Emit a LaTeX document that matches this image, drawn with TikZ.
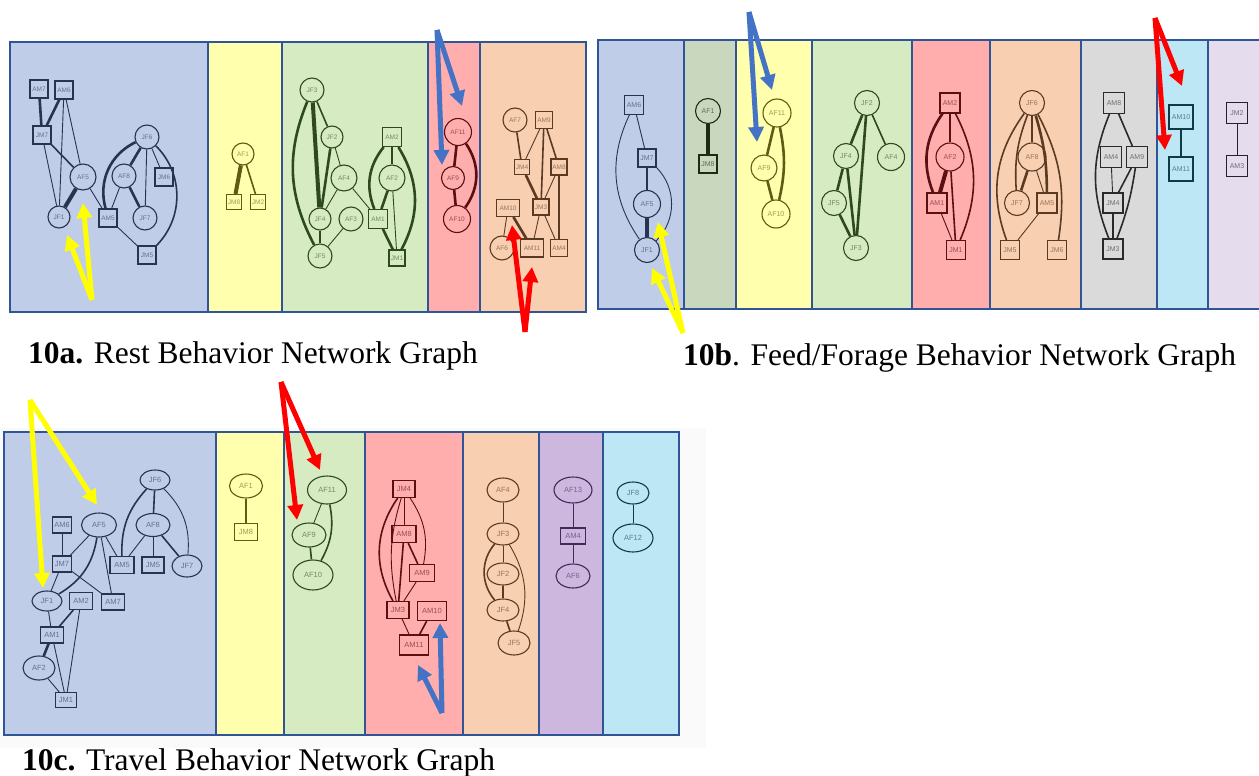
\documentclass[tikz,border=0pt]{standalone}
\usepackage{fontspec}
\setmainfont{Liberation Serif}
\newfontfamily\lab{Liberation Sans}
\usetikzlibrary{arrows.meta,shapes.geometric}

% panel fills and frame
\definecolor{bdr}{HTML}{2F5597}
\definecolor{pblue}{HTML}{BFCDE8}
\definecolor{pyellow}{HTML}{FFFFAD}
\definecolor{pgreen}{HTML}{D6EBC2}
\definecolor{pred}{HTML}{FFADAD}
\definecolor{ppeach}{HTML}{F8CFB1}
\definecolor{polive}{HTML}{C9D7BF}
\definecolor{pgray}{HTML}{DADADA}
\definecolor{pcyan}{HTML}{BEE7F6}
\definecolor{plav}{HTML}{E5DCEE}
\definecolor{ppurple}{HTML}{CDB7DF}
% line colours of the graphs
\definecolor{inkblue}{HTML}{26344F}
\definecolor{inkyellow}{HTML}{5C5C14}
\definecolor{inkgreen}{HTML}{2E4A1C}
\definecolor{inkred}{HTML}{5A0F12}
\definecolor{inkpeach}{HTML}{5A3A22}
\definecolor{inkolive}{HTML}{1E2A14}
\definecolor{inkgray}{HTML}{2A2A2A}
\definecolor{inkcyan}{HTML}{0E3A44}
\definecolor{inklav}{HTML}{2A1F30}
\definecolor{inkpurple}{HTML}{3F2A5A}
\definecolor{ink}{HTML}{26344F}
% pointer arrows
\definecolor{hy}{HTML}{FFFF00}
\definecolor{hr}{HTML}{FF0000}
\definecolor{hb}{HTML}{4472C4}

\tikzset{
  panel/.style={fill=#1, draw=bdr, line width=1.6pt},
  labfont/.style={font=\lab\fontsize{#1}{#1}\selectfont},
  vc/.style={circle, draw=ink, line width=1.1pt, inner sep=0pt, minimum size=#1,
             text=ink, text opacity=0.6},
  vc/.default=24,
  vb/.style={rectangle, draw=ink, line width=1.1pt, inner sep=0pt, minimum width=#1,
             minimum height=#1, text=ink, text opacity=0.6},
  vb/.default=18,
  ve/.style 2 args={ellipse, draw=ink, line width=1.1pt, inner sep=0pt, minimum width=#1,
             minimum height=#2, text=ink, text opacity=0.6},
  vr/.style 2 args={rectangle, draw=ink, line width=1.1pt, inner sep=0pt, minimum width=#1,
             minimum height=#2, text=ink, text opacity=0.6},
  e1/.style={draw=ink, line width=0.9pt},
  e2/.style={draw=ink, line width=1.6pt},
  e3/.style={draw=ink, line width=2.6pt},
  e4/.style={draw=ink, line width=4pt},
  hint/.style={draw=#1, line width=5pt, -{Triangle[length=15pt,width=15pt]}},
  caption/.style={anchor=base west, inner sep=0pt, font=\fontsize{31.5}{36}\selectfont}
}

\begin{document}
\begin{tikzpicture}[x=1pt,y=-1pt]
\useasboundingbox (0,0) rectangle (1259,776);
\fill[white] (0,0) rectangle (1259,776);
\fill[gray!4] (0,428) rectangle (706,748);

% ---------------- 10a panels
\draw[panel=pblue]   (10,42)  rectangle (208,312);
\draw[panel=pyellow] (208,42) rectangle (282,312);
\draw[panel=pgreen]  (282,42) rectangle (428,312);
\draw[panel=pred]    (428,42) rectangle (480,312);
\draw[panel=ppeach]  (480,42) rectangle (586,312);

% ---------------- 10b panels
\draw[panel=pblue]   (598,40)  rectangle (684,309);
\draw[panel=polive]  (684,40)  rectangle (736,309);
\draw[panel=pyellow] (736,40)  rectangle (812,309);
\draw[panel=pgreen]  (812,40)  rectangle (912,309);
\draw[panel=pred]    (912,40)  rectangle (990,309);
\draw[panel=ppeach]  (990,40)  rectangle (1081,309);
\draw[panel=pgray]   (1081,40) rectangle (1157,309);
\draw[panel=pcyan]   (1157,40) rectangle (1208,309);
\draw[panel=plav]    (1208,40) rectangle (1264,309);

% ---------------- 10c panels
\draw[panel=pblue]   (4,432)   rectangle (216,735);
\draw[panel=pyellow] (216,432) rectangle (284,735);
\draw[panel=pgreen]  (284,432) rectangle (365,735);
\draw[panel=pred]    (365,432) rectangle (463,735);
\draw[panel=ppeach]  (463,432) rectangle (539,735);
\draw[panel=ppurple] (539,432) rectangle (603,735);
\draw[panel=pcyan]   (603,432) rectangle (679,735);

% ======== 10a: rest
\begin{scope}[labfont=6.5]
  \colorlet{ink}{inkblue}
  \node[vb] (a-am7) at (39,89) {AM7};
  \node[vb] (a-am6) at (64,90) {AM6};
  \node[vb] (a-jm7) at (42,135) {JM7};
  \node[vc=24] (a-jf6) at (147,137) {JF6};
  \node[vc=26] (a-af5) at (83,177) {AF5};
  \node[vc=24] (a-af8) at (124,176) {AF8};
  \node[vb] (a-jm6) at (164,177) {JM6};
  \node[vc=22] (a-jf1) at (59,217) {JF1};
  \node[vb] (a-am5) at (108,218) {AM5};
  \node[vc=24] (a-jf7) at (145,218) {JF7};
  \node[vb] (a-jm5) at (147,255) {JM5};
  \draw[e3] (a-am7) -- (a-jm7);
  \draw[e3] (a-am6) -- (a-jm7);
  \draw[e1] (a-am6) -- (a-jf1);
  \draw[e1] (a-am6) -- (a-af5);
  \draw[e1] (a-jm7) -- (a-jf1);
  \draw[e2] (a-jm7) -- (a-af5);
  \draw[e4] (a-af5) -- (a-jf1);
  \draw[e1] (a-af5) -- (a-am5);
  \draw[e3] (a-jf6) to[bend right=40] (a-am5);
  \draw[e3] (a-jf6) -- (a-af8);
  \draw[e1] (a-jf6) -- (a-jf7);
  \draw[e1] (a-jf6) -- (a-jm6);
  \draw[e2] (a-jf6) to[bend left=45] (a-jm5);
  \draw[e1] (a-af8) -- (a-am5);
  \draw[e3] (a-af8) -- (a-jf7);
  \draw[e1] (a-am5) -- (a-jm5);

  \colorlet{ink}{inkyellow}
  \node[vc=22] (a-af1) at (243,154) {AF1};
  \node[vb=15] (a-jm8) at (234,202) {JM8};
  \node[vb=15] (a-jm2) at (258,202) {JM2};
  \draw[e4] (a-af1) -- (a-jm8);
  \draw[e2] (a-af1) -- (a-jm2);

  \colorlet{ink}{inkgreen}
  \node[vc=24] (a-jf3) at (312,90) {JF3};
  \node[vc=22] (a-jf2) at (332,137) {JF2};
  \node[vc=26] (a-af4) at (344,178) {AF4};
  \node[vb=19] (a-am2) at (392,137) {AM2};
  \node[vc=26] (a-af2) at (392,178) {AF2};
  \node[vc=22] (a-jf4) at (320,219) {JF4};
  \node[vc=24] (a-af3) at (351,219) {AF3};
  \node[vb=19] (a-am1) at (378,219) {AM1};
  \node[vc=24] (a-jf5) at (320,256) {JF5};
  \node[vb=16] (a-jm1) at (397,258) {JM1};
  \draw[e2] (a-jf3) -- (a-jf2);
  \draw[e4] (a-jf3) -- (a-jf4);
  \draw[e3] (a-jf3) to[bend right=25] (a-jf5);
  \draw[e3] (a-jf2) -- (a-jf4);
  \draw[e1] (a-jf2) -- (a-af4);
  \draw[e1] (a-af4) -- (a-jf4);
  \draw[e1] (a-af4) -- (a-am1);
  \draw[e3] (a-jf4) -- (a-jf5);
  \draw[e1] (a-af3) -- (a-jf5);
  \draw[e2] (a-am2) -- (a-af2);
  \draw[e3] (a-am2) to[bend right=30] (a-am1);
  \draw[e3] (a-am2) to[bend left=30] (a-jm1);
  \draw[e3] (a-af2) -- (a-am1);
  \draw[e1] (a-af2) -- (a-jm1);
  \draw[e3] (a-am1) -- (a-jm1);

  \colorlet{ink}{inkred}
  \node[vc=27] (a-af11) at (458,132) {AF11};
  \node[vc=23] (a-af9) at (453,178) {AF9};
  \node[vc=27] (a-af10) at (457,219) {AF10};
  \draw[e3] (a-af11) -- (a-af9);
  \draw[e3] (a-af9) -- (a-af10);
  \draw[e3] (a-af11) to[bend left=35] (a-af10);

  \colorlet{ink}{inkpeach}
  \node[vc=24] (a-af7) at (515,120) {AF7};
  \node[vb=17] (a-am9) at (544,120) {AM9};
  \node[vb=15] (a-jm4) at (522,167) {JM4};
  \node[vb=16] (a-am8) at (559,167) {AM8};
  \node[vr={23}{17}] (a-am10) at (508,208) {AM10};
  \node[vb=16] (a-jm3) at (541,207) {JM3};
  \node[vc=24] (a-af6) at (502,248) {AF6};
  \node[vr={23}{18}] (a-am11) at (532,248) {AM11};
  \node[vb=17] (a-am4) at (559,248) {AM4};
  \draw[e2] (a-af7) -- (a-jm4);
  \draw[e1] (a-am9) -- (a-jm4);
  \draw[e2] (a-am9) -- (a-jm3);
  \draw[e2] (a-am9) -- (a-am8);
  \draw[e3] (a-jm4) -- (a-jm3);
  \draw[e1] (a-am8) -- (a-jm3);
  \draw[e2] (a-am8) -- (a-am4);
  \draw[e1] (a-am10) -- (a-af6);
  \draw[e3] (a-am10) -- (a-am11);
  \draw[e1] (a-jm3) -- (a-am11);
  \draw[e1] (a-jm3) -- (a-am4);
\end{scope}

% ======== 10b: feed / forage
\begin{scope}[labfont=7]
  \colorlet{ink}{inkblue}
  \node[vb=19] (b-am6) at (634,105) {AM6};
  \node[vb=18] (b-jm7) at (647,158) {JM7};
  \node[vc=27] (b-af5) at (647,204) {AF5};
  \node[vc=25] (b-jf1) at (647,250) {JF1};
  \draw[e1] (b-am6) -- (b-jm7);
  \draw[e1] (b-am6) to[bend right=30] (b-jf1);
  \draw[e3] (b-jm7) -- (b-af5);
  \draw[e1] (b-jm7) to[bend left=45] (b-jf1);
  \draw[e4] (b-af5) -- (b-jf1);

  \colorlet{ink}{inkolive}
  \node[vc=25] (b-af1) at (708,111) {AF1};
  \node[vb=18] (b-jm8) at (708,164) {JM8};
  \draw[e4] (b-af1) -- (b-jm8);

  \colorlet{ink}{inkyellow}
  \node[vc=28] (b-af11) at (777,113) {AF11};
  \node[vc=26] (b-af9) at (764,168) {AF9};
  \node[vc=28] (b-af10) at (776,214) {AF10};
  \draw[e3] (b-af11) -- (b-af9);
  \draw[e3] (b-af9) -- (b-af10);
  \draw[e3] (b-af11) to[bend left=12] (b-af10);

  \colorlet{ink}{inkgreen}
  \node[vc=25] (b-jf2) at (867,103) {JF2};
  \node[vc=25] (b-jf4) at (846,156) {JF4};
  \node[vc=27] (b-af4) at (891,157) {AF4};
  \node[vc=25] (b-jf5) at (834,203) {JF5};
  \node[vc=25] (b-jf3) at (856,248) {JF3};
  \draw[e3] (b-jf2) -- (b-jf4);
  \draw[e2] (b-jf2) -- (b-af4);
  \draw[e3] (b-jf2) -- (b-jf3);
  \draw[e3] (b-jf4) -- (b-jf5);
  \draw[e3] (b-jf4) -- (b-jf3);
  \draw[e3] (b-jf5) -- (b-jf3);

  \colorlet{ink}{inkred}
  \node[vb=20] (b-am2) at (950,103) {AM2};
  \node[vc=28] (b-af2) at (950,157) {AF2};
  \node[vb=20] (b-am1) at (937,203) {AM1};
  \node[vb=19] (b-jm1) at (956,250) {JM1};
  \draw[e2] (b-am2) -- (b-af2);
  \draw[e3] (b-am2) to[bend right=28] (b-am1);
  \draw[e2] (b-am2) to[bend left=25] (b-jm1);
  \draw[e4] (b-af2) -- (b-am1);
  \draw[e2] (b-af2) -- (b-jm1);
  \draw[e1] (b-am1) -- (b-jm1);

  \colorlet{ink}{inkpeach}
  \node[vc=25] (b-jf6) at (1032,103) {JF6};
  \node[vc=28] (b-af8) at (1032,157) {AF8};
  \node[vc=25] (b-jf7) at (1017,203) {JF7};
  \node[vb=20] (b-am5) at (1047,203) {AM5};
  \node[vb=19] (b-jm5) at (1010,250) {JM5};
  \node[vb=19] (b-jm6) at (1057,250) {JM6};
  \draw[e3] (b-jf6) -- (b-af8);
  \draw[e2] (b-jf6) to[bend right=12] (b-jf7);
  \draw[e3] (b-jf6) to[bend left=8] (b-am5);
  \draw[e2] (b-jf6) to[bend right=28] (b-jm5);
  \draw[e2] (b-jf6) to[bend left=18] (b-jm6);
  \draw[e3] (b-af8) -- (b-jf7);
  \draw[e1] (b-af8) -- (b-am5);
  \draw[e1] (b-am5) -- (b-jm5);

  \colorlet{ink}{inkgray}
  \node[vb=21] (b-am8) at (1114,103) {AM8};
  \node[vb=21] (b-am4) at (1111,157) {AM4};
  \node[vb=21] (b-am9) at (1137,157) {AM9};
  \node[vb=20] (b-jm4) at (1113,203) {JM4};
  \node[vb=20] (b-jm3) at (1113,249) {JM3};
  \draw[e2] (b-am8) -- (b-am9);
  \draw[e2] (b-am8) to[bend right=22] (b-jm3);
  \draw[e1] (b-am4) -- (b-jm4);
  \draw[e2] (b-am9) -- (b-jm4);
  \draw[e2] (b-am9) to[bend left=6] (b-jm3);
  \draw[e3] (b-jm4) -- (b-jm3);

  \colorlet{ink}{inkcyan}
  \node[vb=24] (b-am10) at (1181,117) {AM10};
  \node[vb=24] (b-am11) at (1181,169) {AM11};
  \draw[e3] (b-am10) -- (b-am11);

  \colorlet{ink}{inklav}
  \node[vb=21] (b-jm2) at (1237,113) {JM2};
  \node[vb=21] (b-am3) at (1237,166) {AM3};
  \draw[e1] (b-jm2) -- (b-am3);
\end{scope}

% ======== 10c: travel
\begin{scope}[labfont=7.5]
  \colorlet{ink}{inkblue}
  \node[ve={30}{20}] (c-jf6) at (155,480) {JF6};
  \node[vr={19}{16}] (c-am6) at (62,525) {AM6};
  \node[ve={35}{24}] (c-af5) at (99,525) {AF5};
  \node[ve={34}{23}] (c-af8) at (153,525) {AF8};
  \node[vr={19}{16}] (c-jm7) at (62,564) {JM7};
  \node[vr={24}{17}] (c-am5) at (122,565) {AM5};
  \node[vr={22}{16}] (c-jm5) at (153,565) {JM5};
  \node[ve={30}{22}] (c-jf7) at (187,566) {JF7};
  \node[ve={30}{20}] (c-jf1) at (47,601) {JF1};
  \node[vr={23}{17}] (c-am2) at (81,601) {AM2};
  \node[vr={23}{16}] (c-am7) at (113,602) {AM7};
  \node[vr={23}{16}] (c-am1) at (52,635) {AM1};
  \node[ve={32}{24}] (c-af2) at (39,668) {AF2};
  \node[vr={21}{15}] (c-jm1) at (66,700) {JM1};
  \draw[e1] (c-am6) -- (c-jm7);
  \draw[e1] (c-af5) -- (c-jm7);
  \draw[e2] (c-af5) to[bend left=25] (c-jf1);
  \draw[e1] (c-af5) -- (c-am5);
  \draw[e1] (c-af5) -- (c-am7);
  \draw[e1] (c-jm7) -- (c-jf1);
  \draw[e1] (c-jm7) -- (c-am7);
  \draw[e2] (c-jf6) to[bend right=22] (c-am5);
  \draw[e2] (c-jf6) -- (c-af8);
  \draw[e1] (c-jf6) to[bend left=25] (c-jf7);
  \draw[e1] (c-af8) -- (c-am5);
  \draw[e1] (c-af8) -- (c-jm5);
  \draw[e2] (c-af8) -- (c-jf7);
  \draw[e1] (c-jf1) -- (c-am1);
  \draw[e2] (c-am2) -- (c-am1);
  \draw[e1] (c-am2) -- (c-jm1);
  \draw[e3] (c-am1) -- (c-af2);
  \draw[e1] (c-am1) -- (c-jm1);
  \draw[e1] (c-af2) -- (c-jm1);

  \colorlet{ink}{inkyellow}
  \node[ve={33}{24}] (c-af1) at (246,486) {AF1};
  \node[vr={23}{17}] (c-jm8) at (246,532) {JM8};
  \draw[e2] (c-af1) -- (c-jm8);

  \colorlet{ink}{inkgreen}
  \node[ve={39}{28}] (c-af11) at (327,490) {AF11};
  \node[ve={34}{24}] (c-af9) at (309,535) {AF9};
  \node[ve={40}{30}] (c-af10) at (313,575) {AF10};
  \draw[e1] (c-af11) -- (c-af9);
  \draw[e2] (c-af9) -- (c-af10);
  \draw[e2] (c-af11) to[bend left=20] (c-af10);

  \colorlet{ink}{inkred}
  \node[vr={22}{17}] (c-jm4) at (404,489) {JM4};
  \node[vr={24}{17}] (c-am8) at (404,534) {AM8};
  \node[vr={25}{17}] (c-am9) at (422,573) {AM9};
  \node[vr={22}{17}] (c-jm3) at (398,610) {JM3};
  \node[vr={29}{19}] (c-am10) at (432,611) {AM10};
  \node[vr={29}{20}] (c-am11) at (414,645) {AM11};
  \draw[e1] (c-jm4) -- (c-am8);
  \draw[e2] (c-jm4) to[bend right=32] (c-jm3);
  \draw[e1] (c-jm4) to[bend right=14] (c-jm3);
  \draw[e1] (c-jm4) to[bend left=22] (c-am9);
  \draw[e2] (c-am8) -- (c-jm3);
  \draw[e2] (c-am8) -- (c-am9);
  \draw[e1] (c-am9) -- (c-jm3);
  \draw[e1] (c-jm3) -- (c-am11);
  \draw[e2] (c-am10) -- (c-am11);

  \colorlet{ink}{inkpeach}
  \node[ve={32}{24}] (c-af4) at (503,490) {AF4};
  \node[ve={32}{22}] (c-jf3) at (503,534) {JF3};
  \node[ve={32}{22}] (c-jf2) at (503,574) {JF2};
  \node[ve={32}{22}] (c-jf4) at (503,610) {JF4};
  \node[ve={32}{24}] (c-jf5) at (514,643) {JF5};
  \draw[e1] (c-af4) -- (c-jf3);
  \draw[e1] (c-jf3) -- (c-jf2);
  \draw[e2] (c-jf3) to[bend right=40] (c-jf4);
  \draw[e1] (c-jf3) to[bend left=25] (c-jf5);
  \draw[e2] (c-jf2) -- (c-jf4);
  \draw[e2] (c-jf4) -- (c-jf5);

  \colorlet{ink}{inkpurple}
  \node[ve={38}{26}] (c-af13) at (573,490) {AF13};
  \node[vr={25}{16}] (c-am4) at (573,536) {AM4};
  \node[ve={34}{24}] (c-af6) at (573,576) {AF6};
  \draw[e1] (c-af13) -- (c-am4);
  \draw[e1] (c-am4) -- (c-af6);

  \colorlet{ink}{inkcyan}
  \node[ve={32}{22}] (c-jf8) at (633,493) {JF8};
  \node[ve={40}{28}] (c-af12) at (633,538) {AF12};
  \draw[e1] (c-jf8) -- (c-af12);
\end{scope}

% ======== pointer arrows
\coordinate (ya0) at (92,300);  \coordinate (ya1) at (67,235);  \coordinate (ya2) at (83,203);
\coordinate (ba0) at (437,30);  \coordinate (ba1) at (462,106); \coordinate (ba2) at (442,165);
\coordinate (ra0) at (525,332); \coordinate (ra1) at (512,225); \coordinate (ra2) at (532,267);
\coordinate (yb0) at (683,333); \coordinate (yb1) at (652,268); \coordinate (yb2) at (658,222);
\coordinate (bb0) at (749,12);  \coordinate (bb1) at (772,90);  \coordinate (bb2) at (757,142);
\coordinate (rb0) at (1155,18); \coordinate (rb1) at (1182,86); \coordinate (rb2) at (1165,150);
\coordinate (yc0) at (30,400);  \coordinate (yc1) at (43,588);  \coordinate (yc2) at (97,505);
\coordinate (rc0) at (281,382); \coordinate (rc1) at (320,470); \coordinate (rc2) at (297,520);
\coordinate (bc0) at (442,713); \coordinate (bc1) at (440,623); \coordinate (bc2) at (418,665);
\foreach \g/\c in {ya/hy,ba/hb,ra/hr,yb/hy,bb/hb,rb/hr,yc/hy,rc/hr,bc/hb}{
  \draw[hint=\c] (\g0) -- (\g1);
  \draw[hint=\c] (\g0) -- (\g2);
}

% ======== captions
\node[caption] (cap-a) at (28,363) {\textbf{10a.} Rest Behavior Network Graph};
\node[caption] (cap-b) at (683,365) {\textbf{10b}. Feed/Forage Behavior Network Graph};
\node[caption] (cap-c) at (22,770) {\textbf{10c.} Travel Behavior Network Graph};
\end{tikzpicture}
\end{document}
